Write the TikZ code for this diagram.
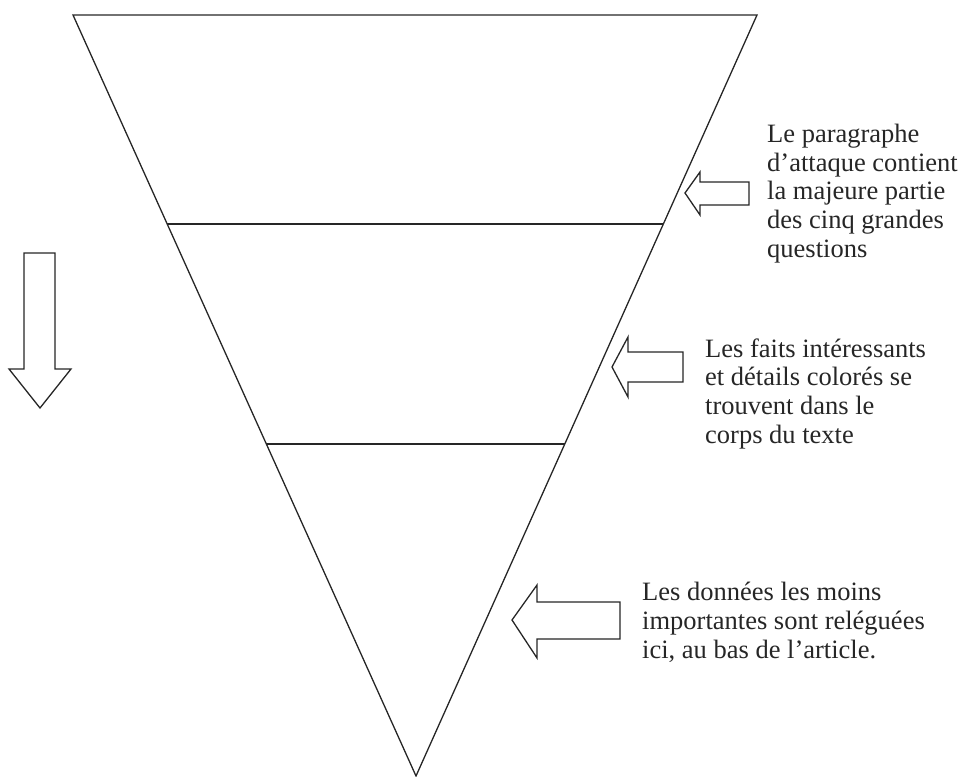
\documentclass[tikz,border=0pt]{standalone}
\usepackage{fontspec}
\setmainfont{Liberation Serif}
\usetikzlibrary{calc}
\begin{document}
\begin{tikzpicture}[x=1pt,y=-1pt,
  edge/.style={draw=black!85,line width=1.3pt,line join=miter},
  blockarrow/.style={draw=black!85,line width=1.3pt,fill=white,line join=miter},
  label/.style={anchor=base west,inner sep=0pt,align=left,text=black!85,
    font=\fontsize{26.5}{28.6}\selectfont}]
\useasboundingbox (0,0) rectangle (960,776);
% triangle
\coordinate (tl) at (73,15);
\coordinate (tr) at (757,15);
\coordinate (ap) at (416,776);
\draw[edge] (tl) -- (tr) -- (ap) -- cycle;
% section lines
\coordinate (l1a) at ($(tl)!0.2745!(ap)$);
\coordinate (l1b) at ($(tr)!0.2745!(ap)$);
\coordinate (l2a) at ($(tl)!0.5637!(ap)$);
\coordinate (l2b) at ($(tr)!0.5637!(ap)$);
\draw[edge] (l1a) -- (l1b);
\draw[edge] (l2a) -- (l2b);
% down arrow
\draw[blockarrow] (24,253) -- (55,253) -- (55,369) -- (71,369) -- (40,408)
  -- (9,369) -- (24,369) -- cycle;
% arrow 1
\draw[blockarrow] (685,193) -- (700,172) -- (700,182) -- (749,182) -- (749,205)
  -- (700,205) -- (700,215) -- cycle;
% arrow 2
\draw[blockarrow] (612,367) -- (628,337) -- (628,352) -- (683,352) -- (683,382)
  -- (628,382) -- (628,397) -- cycle;
% arrow 3
\draw[blockarrow] (512,620) -- (537,585) -- (537,602) -- (620,602) -- (620,639)
  -- (537,639) -- (537,658) -- cycle;
% labels (anchored at the baseline of the last line)
\node[label] (t1) at (767,257) {Le paragraphe\\d’attaque contient\\la majeure partie\\des cinq grandes\\questions};
\node[label] (t2) at (705,443) {Les faits intéressants\\et détails colorés se\\trouvent dans le\\corps du texte};
\node[label] (t3) at (642,658) {Les données les moins\\importantes sont reléguées\\ici, au bas de l’article.};
\end{tikzpicture}
\end{document}
